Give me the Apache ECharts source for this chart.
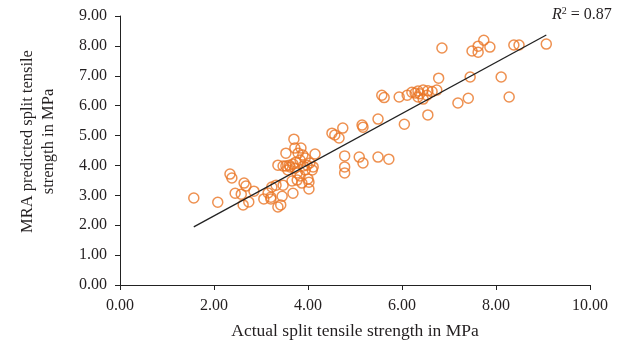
<!DOCTYPE html>
<html><head><meta charset="utf-8">
<script src="https://cdn.jsdelivr.net/npm/echarts@6/dist/echarts.min.js"></script>
<style>html,body{margin:0;padding:0;background:#fff}#c{width:632px;height:349px}</style>
</head><body><div id="c"></div>
<script>
var actual = [1.57,2.08,2.34,2.38,2.64,2.68,2.45,2.58,2.62,2.74,2.85,3.06,3.15,3.21,3.23,3.32,3.21,3.36,3.42,3.45,3.47,3.68,3.36,3.53,3.70,3.72,3.79,3.85,3.89,3.53,3.60,3.68,3.74,3.83,3.94,4.04,4.15,4.11,4.09,3.77,3.77,3.87,4.02,4.02,3.72,3.94,3.83,3.66,3.57,3.98,3.62,3.90,4.00,3.47,
4.51,4.57,4.66,4.74,4.78,4.78,4.78,5.09,5.15,5.17,5.17,5.49,5.49,5.72,5.57,5.62,5.94,6.11,6.05,6.55,6.21,6.28,6.34,6.38,6.45,6.55,6.64,6.74,6.53,6.34,6.45,6.78,6.85,7.49,7.62,7.74,7.62,7.87,8.38,8.49,9.07,7.45,8.11,7.19,7.41,8.28];
var predicted = [2.91,2.77,3.71,3.58,3.41,3.31,3.07,3.04,2.68,2.78,3.14,2.88,3.08,2.94,3.28,3.34,2.88,2.61,2.68,2.97,3.34,3.07,4.01,4.41,4.88,4.58,4.41,4.58,4.35,3.98,4.01,4.05,4.11,4.18,4.25,4.08,4.38,3.95,3.85,3.75,3.51,3.41,3.44,3.21,3.91,3.85,3.65,3.48,3.85,4.01,3.95,3.98,3.55,3.98,
5.08,5.02,4.92,5.25,4.32,3.95,3.75,4.28,5.35,5.28,4.08,5.55,4.28,4.21,6.35,6.27,6.29,6.35,5.38,5.69,6.45,6.42,6.49,6.40,6.52,6.50,6.47,6.52,6.35,6.29,6.22,6.92,7.93,7.83,7.99,8.19,7.79,7.96,8.03,8.03,8.06,6.96,6.96,6.09,6.25,6.29];
var trendSlope = 0.856, trendIntercept = 0.60;
var xTicks = [0,2,4,6,8,10];
var yTicks = [0,1,2,3,4,5,6,7,8,9];
var xTitle = 'Actual split tensile strength in MPa';
var yTitle = 'MRA predicted split tensile\nstrength in MPa';
var r2Text = '0.87';

var pts = actual.map(function(v,i){return [v, predicted[i]];});
var xmin = Math.min.apply(null, actual), xmax = Math.max.apply(null, actual);
var trend = [[xmin, trendSlope*xmin+trendIntercept],[xmax, trendSlope*xmax+trendIntercept]];
var font = '"Liberation Serif", "DejaVu Serif", serif';
var txt = '#231f20';
var chart = echarts.init(document.getElementById('c'));
chart.setOption({
  animation:false,
  grid:{left:120,right:42,top:16,bottom:64},
  xAxis:{type:'value',min:xTicks[0],max:xTicks[xTicks.length-1],interval:2,
    axisLine:{lineStyle:{color:'#222',width:1}},
    axisTick:{show:true,length:5,lineStyle:{color:'#222'}},
    splitLine:{show:false},
    axisLabel:{color:txt,fontFamily:font,fontSize:16,margin:13,formatter:function(v){return v.toFixed(2);}},
    name:xTitle,nameLocation:'middle',nameGap:37,
    nameTextStyle:{color:txt,fontFamily:font,fontSize:17.5}},
  yAxis:{type:'value',min:yTicks[0],max:yTicks[yTicks.length-1],interval:1,
    axisLine:{show:true,lineStyle:{color:'#222',width:1}},
    axisTick:{show:true,length:5,lineStyle:{color:'#222'}},
    splitLine:{show:false},
    axisLabel:{color:txt,fontFamily:font,fontSize:16,margin:13,formatter:function(v){return v.toFixed(2);}},
    name:yTitle,nameLocation:'middle',nameGap:61,nameRotate:90,
    nameTextStyle:{color:txt,fontFamily:font,fontSize:16.5,lineHeight:21,align:'center',padding:[0,0,0,18]}},
  series:[
    {type:'scatter',data:pts,symbol:'circle',symbolSize:10,z:2,
     itemStyle:{color:'rgba(255,255,255,0)',borderColor:'#EA7526',borderWidth:1.5}},
    {type:'line',data:trend,symbol:'none',z:3,lineStyle:{color:'#222',width:1.3}}
  ],
  graphic:[{type:'text',left:552,top:6,style:{
    text:'{i|R}{s|2} = '+r2Text,
    rich:{i:{fontFamily:font,fontStyle:'italic',fontSize:16,fill:txt},
          s:{fontFamily:font,fontSize:10,fill:txt,verticalAlign:'top',padding:[0,0,8,0]}},
    font:'16px '+font,fill:txt}}]
});
</script></body></html>
